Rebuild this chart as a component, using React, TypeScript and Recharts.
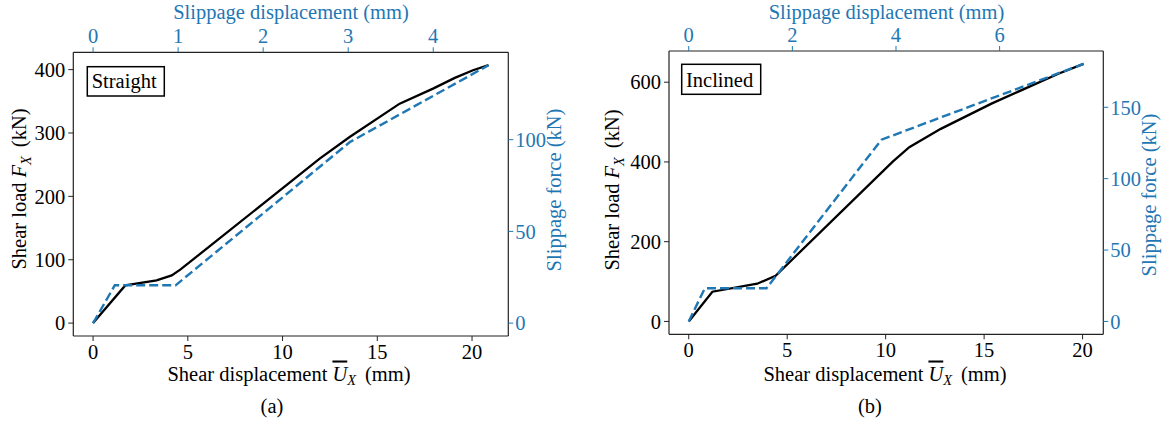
import React from "react";
import { LineChart, Line, XAxis, YAxis } from "recharts";

const BLUE = "#1f77b4";
const SERIF = "'Liberation Serif', 'Times New Roman', serif";
const FS = 20.5;
const H = 425;

// (a) straight connector: shear curve (mm, kN) and slippage curve (mm, kN)
const straightShearDisp = [0, 1.7, 3.35, 4.15, 4.6, 11.96, 13.54, 16.18, 17.94, 19.09, 20.05, 20.87];
const straightShearLoad = [0, 59.5, 67.4, 75.3, 84.3, 259.5, 293.6, 346.3, 370, 387, 399, 407];
const straightSlipDisp = [0, 0.255, 0.97, 3.02, 4.65];
const straightSlipForce = [0, 20.6, 20.6, 98.7, 140.6];

// (b) inclined connector
const inclinedShearDisp = [0, 1.2, 3.48, 4.41, 10.36, 11.2, 12.8, 15.4, 18.8, 20.05];
const inclinedShearLoad = [0, 74.5, 94.5, 114.5, 401, 437, 483, 547, 622, 646];
const inclinedSlipDisp = [0, 0.31, 1.5, 3.72, 7.62];
const inclinedSlipForce = [0, 23.2, 23.2, 127.3, 180.4];

// tick values
const shearDispTicks = [0, 5, 10, 15, 20];
const straightLoadTicks = [0, 100, 200, 300, 400];
const straightSlipTicks = [0, 1, 2, 3, 4];
const straightForceTicks = [0, 50, 100];
const inclinedLoadTicks = [0, 200, 400, 600];
const inclinedSlipTicks = [0, 2, 4, 6];
const inclinedForceTicks = [0, 50, 100, 150];

// matplotlib-style 5% autoscale margin
const pad = (v: number[]): [number, number] => {
  const lo = Math.min(...v);
  const hi = Math.max(...v);
  const m = (hi - lo) * 0.05;
  return [lo - m, hi + m];
};

const zip = (xs: number[], ys: number[], xk: string, yk: string) =>
  xs.map((x, i) => ({ [xk]: x, [yk]: ys[i] }));

type PanelProps = {
  width: number;
  plot: { left: number; right: number; top: number; bottom: number };
  shearDisp: number[];
  shearLoad: number[];
  slipDisp: number[];
  slipForce: number[];
  loadTicks: number[];
  slipTicks: number[];
  forceTicks: number[];
};

const spine = { stroke: "#222", strokeWidth: 1.2 };

function Panel(p: PanelProps) {
  const blackTick = { fontSize: FS, fontFamily: SERIF, fill: "#000" };
  const blueTick = { fontSize: FS, fontFamily: SERIF, fill: BLUE };
  return (
    <LineChart width={p.width} height={H} margin={{ top: 0, right: 0, bottom: 0, left: 0 }}>
      <XAxis
        xAxisId="u"
        dataKey="u"
        type="number"
        orientation="bottom"
        domain={pad(p.shearDisp)}
        ticks={shearDispTicks}
        interval={0}
        height={H - p.plot.bottom}
        tickSize={5}
        tickMargin={3}
        axisLine={spine}
        tickLine={{ stroke: "#222" }}
        tick={blackTick}
      />
      <XAxis
        xAxisId="s"
        dataKey="s"
        type="number"
        orientation="top"
        domain={pad(p.slipDisp)}
        ticks={p.slipTicks}
        interval={0}
        height={p.plot.top}
        tickSize={5}
        tickMargin={4}
        axisLine={spine}
        tickLine={{ stroke: BLUE }}
        tick={blueTick}
      />
      <YAxis
        yAxisId="f"
        type="number"
        orientation="left"
        domain={pad(p.shearLoad)}
        ticks={p.loadTicks}
        interval={0}
        width={p.plot.left}
        tickSize={5}
        tickMargin={3}
        axisLine={spine}
        tickLine={{ stroke: "#222" }}
        tick={blackTick}
      />
      <YAxis
        yAxisId="p"
        type="number"
        orientation="right"
        domain={pad(p.slipForce)}
        ticks={p.forceTicks}
        interval={0}
        width={p.width - p.plot.right}
        tickSize={5}
        tickMargin={2}
        axisLine={spine}
        tickLine={{ stroke: BLUE }}
        tick={blueTick}
      />
      <Line
        data={zip(p.shearDisp, p.shearLoad, "u", "f")}
        xAxisId="u"
        yAxisId="f"
        dataKey="f"
        type="linear"
        stroke="#000"
        strokeWidth={2.3}
        dot={false}
        isAnimationActive={false}
      />
      <Line
        data={zip(p.slipDisp, p.slipForce, "s", "p")}
        xAxisId="s"
        yAxisId="p"
        dataKey="p"
        type="linear"
        stroke={BLUE}
        strokeWidth={2.4}
        strokeDasharray="9 4"
        dot={false}
        isAnimationActive={false}
      />
    </LineChart>
  );
}

// text with an overlined italic symbol and italic subscript, e.g. U_X / F_X
function MathLabel({ pre, sym, sub, post, over }: { pre: string; sym: string; sub: string; post: string; over?: boolean }) {
  return (
    <>
      <tspan>{pre}</tspan>
      <tspan dx={5} fontStyle="italic" style={over ? { textDecoration: "overline" } : undefined}>
        {sym}
      </tspan>
      <tspan fontStyle="italic" fontSize={FS * 0.7} dy={FS * 0.22}>
        {sub}
      </tspan>
      <tspan dx={9} dy={-FS * 0.22}>
        {post}
      </tspan>
    </>
  );
}

function Titles() {
  const t = { fontFamily: SERIF, fontSize: FS };
  return (
    <svg width={1173} height={H} style={{ position: "absolute", left: 0, top: 0, pointerEvents: "none" }}>
      {/* panel (a) */}
      <text x={291} y={19} textAnchor="middle" fill={BLUE} {...t}>Slippage displacement (mm)</text>
      <text x={289} y={380.5} textAnchor="middle" fill="#000" {...t}>
        <MathLabel pre="Shear displacement" sym="U" sub="X" post="(mm)" over />
      </text>
      <text transform="translate(26,189) rotate(-90)" textAnchor="middle" fill="#000" {...t}>
        <MathLabel pre="Shear load" sym="F" sub="X" post="(kN)" />
      </text>
      <text transform="translate(561,190) rotate(-90)" textAnchor="middle" fill={BLUE} {...t}>Slippage force (kN)</text>
      <text x={272} y={413} textAnchor="middle" fill="#000" {...t}>(a)</text>
      <rect x={87.3} y={66.7} width={77} height={29.3} fill="#fff" stroke="#000" strokeWidth={1.5} />
      <text x={91.7} y={88.3} fill="#000" {...t}>Straight</text>

      {/* panel (b) */}
      <text x={886.5} y={19} textAnchor="middle" fill={BLUE} {...t}>Slippage displacement (mm)</text>
      <text x={885} y={380.5} textAnchor="middle" fill="#000" {...t}>
        <MathLabel pre="Shear displacement" sym="U" sub="X" post="(mm)" over />
      </text>
      <text transform="translate(619,190) rotate(-90)" textAnchor="middle" fill="#000" {...t}>
        <MathLabel pre="Shear load" sym="F" sub="X" post="(kN)" />
      </text>
      <text transform="translate(1155.5,195) rotate(-90)" textAnchor="middle" fill={BLUE} {...t}>Slippage force (kN)</text>
      <text x={870} y={413} textAnchor="middle" fill="#000" {...t}>(b)</text>
      <rect x={681.7} y={64.3} width={79} height={30} fill="#fff" stroke="#000" strokeWidth={1.5} />
      <text x={686} y={86.7} fill="#000" {...t}>Inclined</text>
    </svg>
  );
}

export default function App() {
  return (
    <div style={{ position: "absolute", left: 0, top: 0, width: 1173, height: H, background: "#fff" }}>
      <div style={{ position: "absolute", left: 0, top: 0 }}>
        <Panel
          width={590}
          plot={{ left: 73.3, right: 508.3, top: 52.3, bottom: 336 }}
          shearDisp={straightShearDisp}
          shearLoad={straightShearLoad}
          slipDisp={straightSlipDisp}
          slipForce={straightSlipForce}
          loadTicks={straightLoadTicks}
          slipTicks={straightSlipTicks}
          forceTicks={straightForceTicks}
        />
      </div>
      <div style={{ position: "absolute", left: 590, top: 0 }}>
        <Panel
          width={583}
          plot={{ left: 79, right: 513.3, top: 51, bottom: 334.3 }}
          shearDisp={inclinedShearDisp}
          shearLoad={inclinedShearLoad}
          slipDisp={inclinedSlipDisp}
          slipForce={inclinedSlipForce}
          loadTicks={inclinedLoadTicks}
          slipTicks={inclinedSlipTicks}
          forceTicks={inclinedForceTicks}
        />
      </div>
      <Titles />
    </div>
  );
}
